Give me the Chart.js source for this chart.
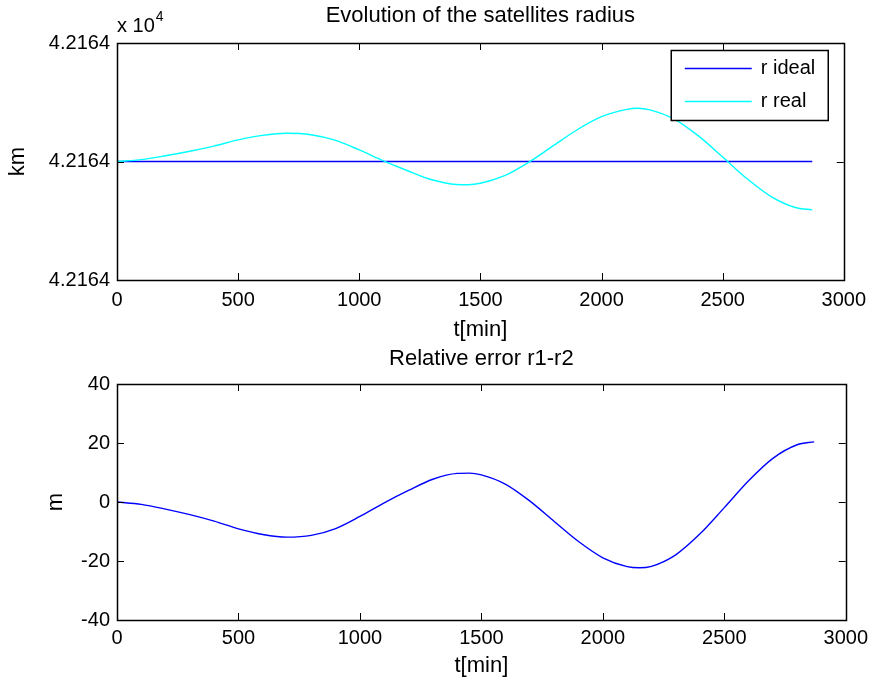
<!DOCTYPE html>
<html>
<head>
<meta charset="utf-8">
<script src="https://cdn.jsdelivr.net/npm/chart.js@4.4.1/dist/chart.umd.min.js"></script>
<style>
  body { margin: 0; background: #fff; }
  #wrap { position: relative; width: 874px; height: 679px; background: #fff; overflow: hidden; }
  canvas { position: absolute; left: 0; }
</style>
</head>
<body>
<div id="wrap">
  <canvas id="canvasRadius" width="874" height="345" style="top:0px"></canvas>
  <canvas id="canvasError" width="874" height="338" style="top:341px"></canvas>
</div>
<script>
// time axis (min)
var tMin = [0, 100, 200, 300, 400, 500, 600, 700, 800, 900, 1000, 1100, 1200, 1300, 1400, 1450,
            1500, 1600, 1700, 1800, 1900, 2000, 2100, 2150, 2200, 2300, 2400, 2500, 2600, 2700, 2800, 2870];
// r real (km)
var rReal = [42164.0000, 42164.0008, 42164.0024, 42164.0043, 42164.0065, 42164.0091, 42164.0110, 42164.0119,
             42164.0113, 42164.0090, 42164.0049, 42164.0003, 42163.9961, 42163.9923, 42163.9903, 42163.9902,
             42163.9908, 42163.9940, 42163.9997, 42164.0066, 42164.0134, 42164.0189, 42164.0219, 42164.0225,
             42164.0218, 42164.0179, 42164.0108, 42164.0019, 42163.9928, 42163.9852, 42163.9806, 42163.9796];
// r ideal (km) - flat line
var tIdeal = [0, 2870];
var rIdeal = [42164.0, 42164.0];
// relative error r1-r2 (m)
var errM = [0, -0.8, -2.4, -4.3, -6.5, -9.1, -11.0, -11.9, -11.3, -9.0, -4.9, -0.3, 3.9, 7.7, 9.7, 9.8,
            9.2, 6.0, 0.3, -6.6, -13.4, -18.9, -21.9, -22.3, -21.8, -17.9, -10.8, -1.9, 7.2, 14.8, 19.4, 20.4];

var xTicks = [0, 500, 1000, 1500, 2000, 2500, 3000];
var yTicksRadius = [42163.95, 42164.0, 42164.05];
var yTicksError = [-40, -20, 0, 20, 40];

var FONT = "'Liberation Sans', Arial, Helvetica, sans-serif";
Chart.defaults.font.family = FONT;
Chart.defaults.font.size = 20;
Chart.defaults.color = '#000';

function toPoints(xs, ys) {
    return xs.map((x, i) => ({ x: x, y: ys[i] }));
}

// matlab style box with inward ticks on the four sides
var matlabAxes = {
    id: 'matlabAxes',
    afterDatasetsDraw: function (chart) {
        var ctx = chart.ctx, a = chart.chartArea;
        var xs = chart.scales.x, ys = chart.scales.y;
        ctx.save();
        ctx.strokeStyle = '#000';
        ctx.lineWidth = 1;
        ctx.beginPath();
        xs.ticks.forEach(function (t) {
            var px = Math.round(xs.getPixelForValue(t.value)) + 0.5;
            ctx.moveTo(px, a.bottom); ctx.lineTo(px, a.bottom - 7);
            ctx.moveTo(px, a.top); ctx.lineTo(px, a.top + 7);
        });
        ys.ticks.forEach(function (t) {
            var py = Math.round(ys.getPixelForValue(t.value)) + 0.5;
            ctx.moveTo(a.left, py); ctx.lineTo(a.left + 7, py);
            ctx.moveTo(a.right, py); ctx.lineTo(a.right - 7, py);
        });
        ctx.stroke();
        ctx.lineWidth = 1.5;
        ctx.strokeRect(Math.round(a.left) + 0.5, Math.round(a.top) + 0.5,
                       Math.round(a.right - a.left), Math.round(a.bottom - a.top));
        ctx.restore();
    }
};

// "x 10^4" exponent above the y axis
var exponentLabel = {
    id: 'exponentLabel',
    afterDraw: function (chart, args, opts) {
        if (!opts.show) return;
        var ctx = chart.ctx, a = chart.chartArea;
        ctx.save();
        ctx.fillStyle = '#000';
        ctx.textBaseline = 'alphabetic';
        ctx.textAlign = 'left';
        ctx.font = '20px ' + FONT;
        ctx.fillText('x 10', a.left, a.top - 11);
        var w = ctx.measureText('x 10').width;
        ctx.font = '14px ' + FONT;
        ctx.fillText('4', a.left + w + 1, a.top - 22);
        ctx.restore();
    }
};

// boxed legend in the upper right corner of the axes
var boxLegend = {
    id: 'boxLegend',
    afterDatasetsDraw: function (chart, args, opts) {
        if (!opts.show) return;
        var ctx = chart.ctx, a = chart.chartArea;
        var w = 157, h = 70;
        var x0 = a.right - 16 - w, y0 = a.top + 7;
        ctx.save();
        ctx.fillStyle = '#fff';
        ctx.fillRect(x0, y0, w, h);
        ctx.strokeStyle = '#000';
        ctx.lineWidth = 1.5;
        ctx.strokeRect(x0 + 0.5, y0 + 0.5, w, h);
        ctx.font = '20px ' + FONT;
        ctx.textBaseline = 'middle';
        ctx.textAlign = 'left';
        chart.data.datasets.forEach(function (ds, i) {
            var y = Math.round(y0 + 18 + i * 33) + 0.5;
            ctx.strokeStyle = ds.borderColor;
            ctx.lineWidth = 1.5;
            ctx.beginPath();
            ctx.moveTo(x0 + 14, y);
            ctx.lineTo(x0 + 81, y);
            ctx.stroke();
            ctx.fillStyle = '#000';
            ctx.fillText(ds.label, x0 + 90, y);
        });
        ctx.restore();
    }
};

function makeConfig(o) {
    return {
        type: 'line',
        data: { datasets: o.datasets },
        options: {
            animation: false,
            responsive: false,
            devicePixelRatio: 1,
            layout: { padding: { left: 0, right: 27, top: 0, bottom: 0 } },
            elements: { point: { radius: 0 }, line: { borderWidth: 1.4, cubicInterpolationMode: 'monotone' } },
            scales: {
                x: {
                    type: 'linear',
                    position: 'bottom',
                    min: 0,
                    max: 3000,
                    afterBuildTicks: function (scale) { scale.ticks = xTicks.map(v => ({ value: v })); },
                    afterFit: function (scale) { scale.height = o.xHeight; },
                    grid: { display: false, drawTicks: false },
                    border: { display: false },
                    ticks: { padding: o.xTickPad, maxRotation: 0, autoSkip: false, callback: v => String(v) },
                    title: { display: true, text: 't[min]', font: { size: 22 }, padding: { top: 0, bottom: o.xTitlePad } }
                },
                y: {
                    type: 'linear',
                    position: 'left',
                    min: o.yMin,
                    max: o.yMax,
                    afterBuildTicks: function (scale) { scale.ticks = o.yTicks.map(v => ({ value: v })); },
                    afterFit: function (scale) { scale.width = 117; },
                    grid: { display: false, drawTicks: false },
                    border: { display: false },
                    ticks: { padding: 7, autoSkip: false, callback: o.yFormat },
                    title: { display: true, text: o.yTitle, font: { size: 22 }, padding: { top: o.yTitlePad, bottom: 0 } }
                }
            },
            plugins: {
                legend: { display: false },
                tooltip: { enabled: false },
                title: {
                    display: true,
                    fullSize: false, // centre over the axes, not the canvas
                    text: o.title,
                    font: { size: 22, weight: 'normal' },
                    color: '#000',
                    padding: { top: o.titleTop, bottom: o.titleBottom }
                },
                boxLegend: { show: o.legend },
                exponentLabel: { show: o.exponent }
            }
        },
        plugins: [matlabAxes, boxLegend, exponentLabel]
    };
}

function drawRadius() {
    var ctx = document.getElementById('canvasRadius').getContext('2d');
    new Chart(ctx, makeConfig({
        title: 'Evolution of the satellites radius',
        titleTop: 3, titleBottom: 13.6,
        xHeight: 65, xTickPad: 8, xTitlePad: 1.8,
        yMin: 42163.95, yMax: 42164.05, yTicks: yTicksRadius,
        yFormat: v => (v / 1e4).toFixed(4),
        yTitle: 'km', yTitlePad: 4.8,
        legend: true, exponent: true,
        datasets: [{
            label: 'r ideal',
            data: toPoints(tIdeal, rIdeal),
            borderColor: '#0000ff',
            fill: false,
            order: 2
        }, {
            label: 'r real',
            data: toPoints(tMin, rReal),
            borderColor: '#00ffff',
            fill: false,
            order: 1
        }]
    }));
}

function drawError() {
    var ctx = document.getElementById('canvasError').getContext('2d');
    new Chart(ctx, makeConfig({
        title: 'Relative error r1-r2',
        titleTop: 4.8, titleBottom: 11.8,
        xHeight: 59, xTickPad: 6, xTitlePad: 0,
        yMin: -40, yMax: 40, yTicks: yTicksError,
        yFormat: v => String(v),
        yTitle: 'm', yTitlePad: 42.8,
        legend: false, exponent: false,
        datasets: [{
            label: 'r1-r2',
            data: toPoints(tMin, errM),
            borderColor: '#0000ff',
            fill: false
        }]
    }));
}

drawRadius();
drawError();
</script>
</body>
</html>
